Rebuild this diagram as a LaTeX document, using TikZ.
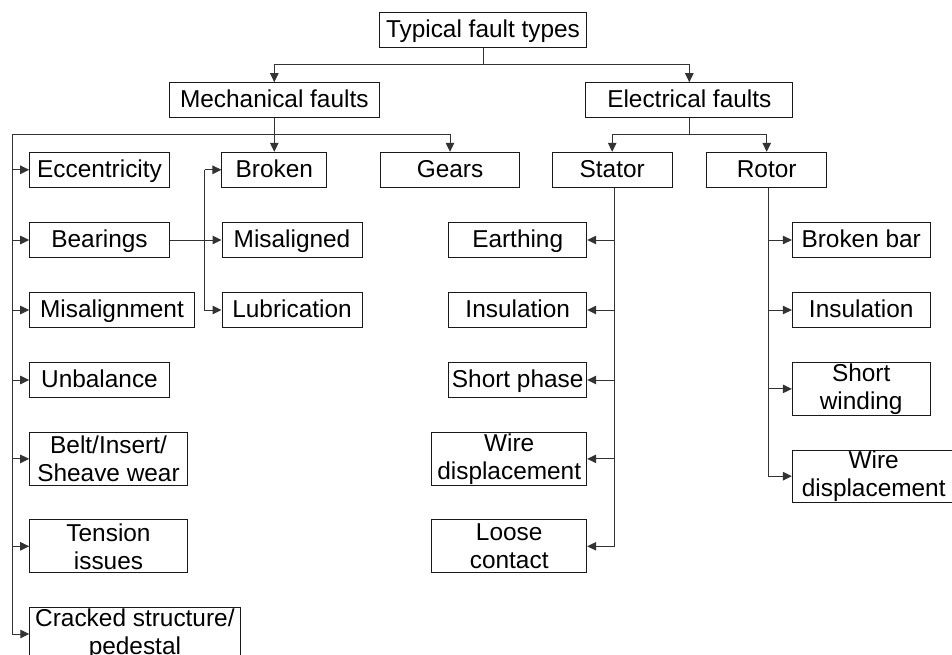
\documentclass[tikz,border=0pt]{standalone}
\usepackage{fontspec}
\setmainfont{Liberation Sans}
\usetikzlibrary{arrows.meta}
\begin{document}
\begin{tikzpicture}[x=1pt,y=-1pt,
  box/.style={draw=black!90,line width=1pt,inner sep=0pt,align=center,
    font=\fontsize{24.4}{28}\selectfont},
  onebox/.style={box,text height=18pt,text depth=2.2pt,minimum height=35},
  arr/.style={draw=black!80,line width=1pt,-{Triangle[length=9pt,width=8.5pt]}},
  ln/.style={draw=black!80,line width=1pt}]
\useasboundingbox (0,0) rectangle (952,655);
\clip (0,0) rectangle (952,655);

% root and first level
\node[onebox,minimum width=207.4,minimum height=34.6] (top)  at (483,30) {Typical fault types};
\node[onebox,minimum width=210,minimum height=34.6]   (mech) at (274.3,100) {Mechanical faults};
\node[onebox,minimum width=206.7,minimum height=34.6] (elec) at (689.3,100) {Electrical faults};

% second level
\node[onebox,minimum width=139.6] (ecc)    at (99.5,169.8)  {Eccentricity};
\node[onebox,minimum width=104.7] (broken) at (274.3,169.8) {Broken};
\node[onebox,minimum width=138.4] (gears)  at (450,169.8)   {Gears};
\node[onebox,minimum width=120.3] (stator) at (612.2,169.8) {Stator};
\node[onebox,minimum width=120]   (rotor)  at (766.7,169.8) {Rotor};

% mechanical branch
\node[onebox,minimum width=139.6] (bear)   at (99.5,240)  {Bearings};
\node[onebox,minimum width=140]   (misd)   at (292,240)   {Misaligned};
\node[onebox,minimum width=164.6] (misal)  at (112,310)   {Misalignment};
\node[onebox,minimum width=140]   (lubr)   at (292,310)   {Lubrication};
\node[onebox,minimum width=139.6] (unbal)  at (99.5,380)  {Unbalance};
\node[box,minimum width=157.6,minimum height=52.3] (belt) at (108.5,458.9) {Belt/Insert/\\Sheave wear};
\node[box,minimum width=157.6,minimum height=52.7] (tens) at (108.5,546.3) {Tension\\issues};
\node[box,minimum width=210.3,minimum height=52.7] (crack) at (134.9,634) {Cracked structure/\\pedestal};

% stator branch
\node[onebox,minimum width=138] (earth)  at (517.7,240) {Earthing};
\node[onebox,minimum width=138] (sins)   at (517.7,310) {Insulation};
\node[onebox,minimum width=138] (sphase) at (517.7,380) {Short phase};
\node[box,minimum width=155,minimum height=52.3] (swire) at (509.2,458.9) {Wire\\displacement};
\node[box,minimum width=155,minimum height=52.7] (loose) at (509.2,546.3) {Loose\\contact};

% rotor branch
\node[onebox,minimum width=137.7] (bbar)  at (861.2,240) {Broken bar};
\node[onebox,minimum width=137.7] (rins)  at (861.2,310) {Insulation};
\node[box,minimum width=137.7,minimum height=52.3] (swind) at (861.2,388.9) {Short\\winding};
\node[box,minimum width=162.7,minimum height=52.3] (rwire) at (873.7,476.2) {Wire\\displacement};

% junction points
\coordinate (tbus) at (0,65);
\coordinate (mL) at (12.3,135);
\coordinate (ebus) at (0,135);
\coordinate (bj) at (204.7,169.8);

% root connectors
\draw[ln] (top.south) -- (top.south |- tbus);
\draw[arr] (top.south |- tbus) -| (mech.north);
\draw[arr] (top.south |- tbus) -| (elec.north);

% mechanical connectors
\draw[arr] (mech.south) -- (broken.north);
\draw[arr] (mL) -| (gears.north);
\draw[arr] (mL) |- (crack.west);
\foreach \n in {ecc,bear,misal,unbal,belt,tens}
  \draw[arr] (mL |- \n.west) -- (\n.west);
\draw[arr] (bj) -- (broken.west);
\draw[arr] (bj) |- (lubr.west);
\draw[arr] (bear.east) -- (misd.west);

% electrical connectors
\draw[ln] (elec.south) -- (elec.south |- ebus);
\draw[arr] (elec.south |- ebus) -| (stator.north);
\draw[arr] (elec.south |- ebus) -| (rotor.north);

\draw[arr] ([xshift=1.8pt]stator.south) |- (loose.east);
\foreach \n in {earth,sins,sphase,swire}
  \draw[arr] ([xshift=1.8pt]stator.south |- \n.east) -- (\n.east);

\draw[arr] ([xshift=1.6pt]rotor.south) |- (rwire.west);
\foreach \n in {bbar,rins,swind}
  \draw[arr] ([xshift=1.6pt]rotor.south |- \n.west) -- (\n.west);
\end{tikzpicture}
\end{document}
